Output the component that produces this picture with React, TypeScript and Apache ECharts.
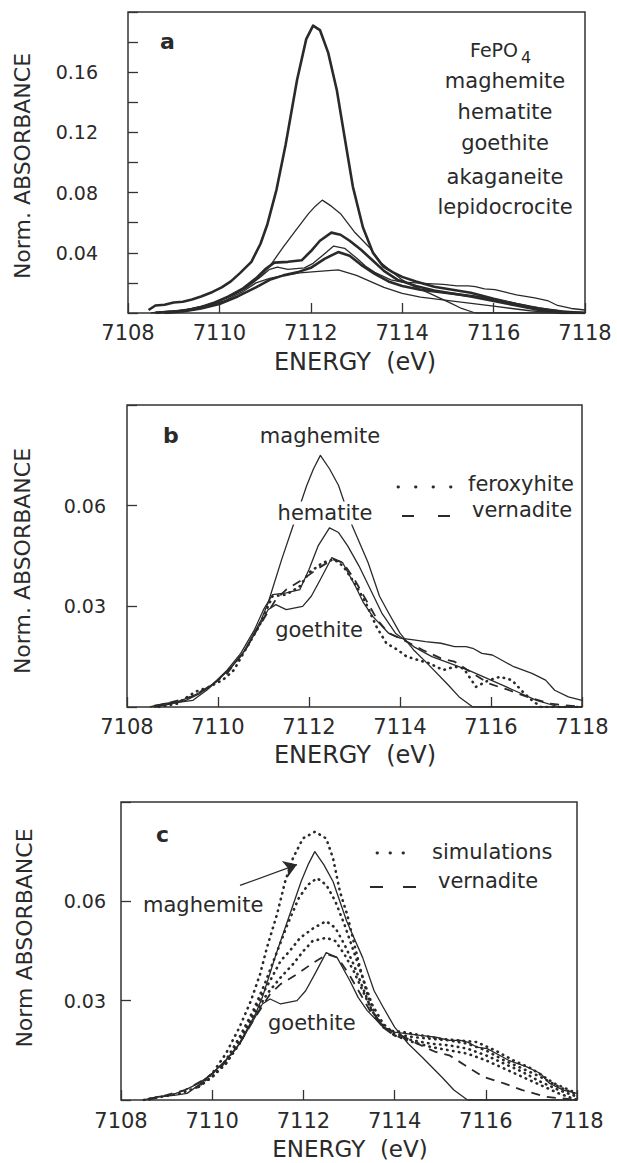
import React, { useEffect, useRef } from "react";
import * as echarts from "echarts";

// ---------- tick labels ----------
const energyTicks = [7108, 7110, 7112, 7114, 7116, 7118];
const yLabelsA = [0.04, 0.08, 0.12, 0.16];
const yLabelsBC = [0.03, 0.06];
const legendA = ["maghemite", "hematite", "goethite", "akaganeite", "lepidocrocite"];

// ---------- spectra (energy eV, normalized absorbance) ----------
const fepo4E = [7108.45, 7108.6, 7108.8, 7109.0, 7109.2, 7109.4, 7109.6, 7109.85, 7110.05, 7110.25, 7110.45, 7110.7, 7110.9, 7111.05, 7111.25, 7111.45, 7111.7, 7111.9, 7112.05, 7112.2, 7112.38, 7112.57, 7112.75, 7112.92, 7113.14, 7113.36, 7113.58, 7113.8, 7114.0, 7114.3, 7114.7, 7115.1, 7115.5, 7116.0, 7116.5, 7117.0, 7117.5, 7118.0];
const fepo4A = [0.002, 0.005, 0.0055, 0.007, 0.0075, 0.009, 0.011, 0.014, 0.017, 0.021, 0.0265, 0.034, 0.046, 0.059, 0.082, 0.112, 0.155, 0.182, 0.191, 0.188, 0.173, 0.148, 0.115, 0.084, 0.057, 0.04, 0.031, 0.027, 0.024, 0.021, 0.0175, 0.0155, 0.0135, 0.0095, 0.006, 0.003, 0.001, 0.0];

const maghE = [7108.6, 7108.9, 7109.2, 7109.45, 7109.75, 7110.0, 7110.3, 7110.55, 7110.75, 7110.95, 7111.1, 7111.4, 7111.65, 7111.95, 7112.1, 7112.25, 7112.45, 7112.65, 7112.95, 7113.3, 7113.55, 7113.75, 7114.0, 7114.3, 7114.6, 7115.05, 7115.3, 7115.6, 7116.0, 7117.0, 7118.0];
const maghA = [0.0005, 0.001, 0.0015, 0.002, 0.005, 0.008, 0.012, 0.016, 0.021, 0.026, 0.031, 0.044, 0.054, 0.066, 0.071, 0.075, 0.071, 0.066, 0.054, 0.043, 0.033, 0.028, 0.022, 0.017, 0.013, 0.0067, 0.003, 0.0, 0.0, 0.0, 0.0];

const hemE = [7108.6, 7109.0, 7109.3, 7109.6, 7109.9, 7110.2, 7110.5, 7110.8, 7111.0, 7111.2, 7111.5, 7111.8, 7112.0, 7112.2, 7112.45, 7112.65, 7112.85, 7113.1, 7113.35, 7113.6, 7113.9, 7114.3, 7114.7, 7115.1, 7115.5, 7116.0, 7116.5, 7117.0, 7117.5, 7118.0];
const hemA = [0.0, 0.001, 0.002, 0.004, 0.007, 0.011, 0.016, 0.023, 0.029, 0.0335, 0.034, 0.035, 0.041, 0.048, 0.0534, 0.052, 0.048, 0.042, 0.035, 0.028, 0.022, 0.018, 0.015, 0.013, 0.011, 0.008, 0.005, 0.002, 0.0, 0.0];

const goeE = [7108.5, 7108.8, 7109.1, 7109.4, 7109.7, 7110.0, 7110.3, 7110.6, 7110.9, 7111.1, 7111.27, 7111.5, 7111.86, 7112.05, 7112.25, 7112.5, 7112.74, 7113.02, 7113.2, 7113.4, 7113.75, 7114.0, 7114.3, 7114.56, 7114.9, 7115.2, 7115.45, 7115.6, 7115.8, 7116.03, 7116.3, 7116.5, 7116.9, 7117.2, 7117.4, 7117.7, 7118.0];
const goeA = [0.0, 0.001, 0.0015, 0.003, 0.005, 0.008, 0.012, 0.017, 0.024, 0.029, 0.0305, 0.029, 0.03, 0.033, 0.038, 0.0445, 0.043, 0.036, 0.031, 0.027, 0.022, 0.0205, 0.02, 0.0195, 0.019, 0.018, 0.018, 0.0175, 0.016, 0.0155, 0.0135, 0.012, 0.01, 0.008, 0.005, 0.003, 0.002];

const akaE = [7108.8, 7109.2, 7109.6, 7110.0, 7110.4, 7110.8, 7111.1, 7111.4, 7111.7, 7112.0, 7112.3, 7112.6, 7112.85, 7113.1, 7113.4, 7113.7, 7114.0, 7114.4, 7114.8, 7115.2, 7115.6, 7116.0, 7116.4, 7116.8, 7117.2, 7117.6, 7118.0];
const akaA = [0.0, 0.001, 0.003, 0.006, 0.011, 0.017, 0.022, 0.025, 0.027, 0.03, 0.036, 0.0405, 0.038, 0.032, 0.026, 0.021, 0.018, 0.0155, 0.014, 0.0125, 0.011, 0.009, 0.0065, 0.004, 0.002, 0.0005, 0.0];

const lepE = [7108.9, 7109.3, 7109.7, 7110.1, 7110.5, 7110.8, 7111.1, 7111.4, 7111.76, 7112.1, 7112.6, 7113.0, 7113.3, 7113.6, 7114.0, 7114.4, 7114.8, 7115.2, 7115.6, 7116.0, 7116.4, 7116.8, 7117.2, 7117.6, 7118.0];
const lepA = [0.0, 0.002, 0.004, 0.008, 0.014, 0.02, 0.023, 0.025, 0.0266, 0.0275, 0.0286, 0.025, 0.021, 0.017, 0.013, 0.0105, 0.009, 0.0075, 0.006, 0.0045, 0.003, 0.0015, 0.0005, 0.0, 0.0];

const ferE = [7108.7, 7109.1, 7109.5, 7109.8, 7110.1, 7110.35, 7110.6, 7110.9, 7111.2, 7111.5, 7111.8, 7112.0, 7112.3, 7112.55, 7112.75, 7113.0, 7113.25, 7113.48, 7113.7, 7113.95, 7114.15, 7114.4, 7114.65, 7114.95, 7115.2, 7115.4, 7115.67, 7115.95, 7116.2, 7116.46, 7116.7, 7116.9, 7117.1, 7117.5, 7118.0];
const ferA = [0.0, 0.001, 0.0045, 0.006, 0.008, 0.011, 0.017, 0.024, 0.033, 0.0335, 0.036, 0.04, 0.043, 0.044, 0.042, 0.037, 0.031, 0.024, 0.019, 0.017, 0.015, 0.014, 0.013, 0.011, 0.012, 0.0115, 0.006, 0.008, 0.009, 0.008, 0.0045, 0.002, 0.0, 0.0, 0.0];

const verE = [7108.6, 7109.0, 7109.4, 7109.8, 7110.2, 7110.6, 7110.9, 7111.27, 7111.5, 7111.86, 7112.2, 7112.52, 7112.75, 7113.0, 7113.25, 7113.5, 7113.75, 7114.0, 7114.5, 7114.9, 7115.2, 7115.6, 7115.95, 7116.4, 7116.8, 7117.3, 7118.0];
const verA = [0.0, 0.0015, 0.003, 0.006, 0.01, 0.017, 0.024, 0.032, 0.035, 0.038, 0.0413, 0.044, 0.043, 0.038, 0.032, 0.026, 0.022, 0.0205, 0.017, 0.0145, 0.0135, 0.01, 0.007, 0.005, 0.003, 0.001, 0.0];

const sim1E = [7108.5, 7108.9, 7109.3, 7109.7, 7110.0, 7110.3, 7110.6, 7110.85, 7111.05, 7111.2, 7111.42, 7111.6, 7111.77, 7111.99, 7112.25, 7112.5, 7112.65, 7112.8, 7112.96, 7113.1, 7113.24, 7113.4, 7113.6, 7113.85, 7114.2, 7114.6, 7115.0, 7115.4, 7115.8, 7116.2, 7116.6, 7117.0, 7117.5, 7118.0];
const sim1A = [0.0, 0.001, 0.002, 0.004, 0.008, 0.014, 0.022, 0.03, 0.038, 0.046, 0.056, 0.066, 0.073, 0.079, 0.081, 0.079, 0.073, 0.063, 0.056, 0.048, 0.04, 0.032, 0.025, 0.021, 0.0205, 0.0195, 0.0185, 0.018, 0.0175, 0.015, 0.012, 0.0095, 0.005, 0.002];

const sim2E = [7109.7, 7110.0, 7110.3, 7110.6, 7110.9, 7111.15, 7111.4, 7111.65, 7111.9, 7112.1, 7112.3, 7112.5, 7112.7, 7112.9, 7113.1, 7113.3, 7113.5, 7113.75, 7114.0, 7114.4, 7114.8, 7115.2, 7115.6, 7116.0, 7116.4, 7116.8, 7117.2, 7117.6, 7118.0];
const sim2A = [0.004, 0.007, 0.012, 0.019, 0.027, 0.035, 0.044, 0.053, 0.061, 0.065, 0.067, 0.065, 0.06, 0.053, 0.045, 0.037, 0.029, 0.023, 0.02, 0.019, 0.0185, 0.018, 0.017, 0.015, 0.012, 0.0095, 0.007, 0.004, 0.0015];

const sim3E = [7109.7, 7110.0, 7110.3, 7110.6, 7110.9, 7111.1, 7111.27, 7111.5, 7111.7, 7111.93, 7112.23, 7112.5, 7112.7, 7112.9, 7113.1, 7113.3, 7113.5, 7113.75, 7114.0, 7114.4, 7114.8, 7115.2, 7115.6, 7116.0, 7116.4, 7116.8, 7117.2, 7117.6, 7118.0];
const sim3A = [0.004, 0.007, 0.011, 0.018, 0.026, 0.032, 0.036, 0.042, 0.045, 0.049, 0.052, 0.054, 0.052, 0.047, 0.041, 0.034, 0.027, 0.022, 0.0195, 0.018, 0.017, 0.0165, 0.0155, 0.0135, 0.011, 0.0085, 0.0055, 0.003, 0.001];

const sim4E = [7109.7, 7110.0, 7110.3, 7110.6, 7110.9, 7111.2, 7111.5, 7111.77, 7112.0, 7112.2, 7112.5, 7112.7, 7112.9, 7113.1, 7113.3, 7113.5, 7113.75, 7114.0, 7114.4, 7114.8, 7115.2, 7115.6, 7116.0, 7116.4, 7116.8, 7117.2, 7117.6, 7118.0];
const sim4A = [0.004, 0.007, 0.011, 0.017, 0.025, 0.032, 0.037, 0.041, 0.045, 0.048, 0.049, 0.048, 0.044, 0.039, 0.033, 0.027, 0.022, 0.0195, 0.0175, 0.016, 0.015, 0.014, 0.012, 0.0095, 0.007, 0.0045, 0.002, 0.0];

// arrow in panel c (data coordinates: from, to)
const arrowFrom = [7110.61, 0.0648];
const arrowTo = [7111.86, 0.0711];

const INK = "#2a2a2a";
const FONT = "DejaVu Sans";

const pairs = (xs: number[], ys: number[]) => xs.map((x, i) => [x, ys[i]]);

const DOTS = [0.5, 5.5];
const DASH = [9, 7];

function curve(name: string, xs: number[], ys: number[], gi: number, width: number, dash?: number[], extra?: any) {
  return {
    name,
    type: "line",
    xAxisIndex: gi,
    yAxisIndex: gi,
    data: pairs(xs, ys),
    showSymbol: false,
    symbol: "none",
    smooth: false,
    silent: true,
    lineStyle: {
      color: INK,
      width,
      type: dash ? dash : "solid",
      cap: dash === DOTS ? "round" : "butt",
      join: "round",
    },
    z: 3,
    ...(extra || {}),
  };
}

function txt(text: string, x: number, y: number, size: number, align = "center", extra: any = {}) {
  return {
    type: "text",
    x,
    y,
    z: 100,
    style: {
      text,
      fill: INK,
      fontSize: size,
      fontFamily: FONT,
      align,
      verticalAlign: "middle",
      textAlign: align,
      textVerticalAlign: "middle",
      ...extra,
    },
  };
}

function vtxt(text: string, x: number, y: number, size: number) {
  const t: any = txt(text, x, y, size);
  t.rotation = Math.PI / 2;
  return t;
}

function sample(x1: number, x2: number, y: number, dash: number[], width: number, round: boolean) {
  return {
    type: "line",
    z: 100,
    shape: { x1, y1: y, x2, y2: y },
    style: { stroke: INK, lineWidth: width, lineDash: dash, lineCap: round ? "round" : "butt" },
  };
}

export default function App() {
  const ref = useRef<HTMLDivElement>(null);

  useEffect(() => {
    const chart = echarts.init(ref.current as HTMLDivElement, null, { renderer: "svg" });

    const grids = [
      { left: 128, top: 12, width: 457, height: 301 },
      { left: 127, top: 405, width: 455, height: 302 },
      { left: 121, top: 802, width: 456, height: 298 },
    ].map((g) => ({ ...g, show: true, borderColor: "#333", borderWidth: 1.5, backgroundColor: "transparent" }));

    const labelMargins = [9, 9, 10];
    const xAxes = [0, 1, 2].map((i) => ({
      type: "value",
      gridIndex: i,
      min: energyTicks[0],
      max: energyTicks[energyTicks.length - 1],
      interval: 2,
      axisLine: { show: false },
      splitLine: { show: false },
      axisTick: { show: true, inside: true, length: 10, lineStyle: { color: "#333", width: 1.3 } },
      axisLabel: {
        show: true,
        showMinLabel: true,
        showMaxLabel: true,
        margin: labelMargins[i],
        color: INK,
        fontSize: 21,
        fontFamily: FONT,
        formatter: (v: number) => (energyTicks.includes(Math.round(v)) ? String(Math.round(v)) : ""),
      },
    }));

    const yMargins = [30, 21, 15];
    const yAxes = [0, 1, 2].map((i) => {
      const isA = i === 0;
      const lbls = isA ? yLabelsA : yLabelsBC;
      return {
        type: "value",
        gridIndex: i,
        min: 0,
        max: isA ? 0.2 : 0.09,
        interval: isA ? 0.02 : 0.03,
        axisLine: { show: false },
        splitLine: { show: false },
        axisTick: { show: true, inside: true, length: 10, lineStyle: { color: "#333", width: 1.3 } },
        axisLabel: {
          show: true,
          margin: yMargins[i],
          color: INK,
          fontSize: 19,
          fontFamily: FONT,
          formatter: (v: number) => {
            const k = Math.round(v * 100);
            return lbls.some((l) => Math.round(l * 100) === k) ? (k / 100).toFixed(2) : "";
          },
        },
      };
    });

    const THICK = 2.6;
    const THIN = 1.3;

    const series: any[] = [
      // panel a
      curve("FePO4", fepo4E, fepo4A, 0, THICK),
      curve("maghemite", maghE, maghA, 0, THIN),
      curve("hematite", hemE, hemA, 0, THICK),
      curve("goethite", goeE, goeA, 0, THIN),
      curve("akaganeite", akaE, akaA, 0, THICK),
      curve("lepidocrocite", lepE, lepA, 0, THIN),
      // panel b
      curve("maghemite b", maghE, maghA, 1, THIN),
      curve("hematite b", hemE, hemA, 1, THIN),
      curve("goethite b", goeE, goeA, 1, THIN),
      curve("feroxyhite", ferE, ferA, 1, 2.6, DOTS),
      curve("vernadite b", verE, verA, 1, 1.8, DASH),
      // panel c
      curve("maghemite c", maghE, maghA, 2, THIN, undefined, {
        markLine: {
          silent: true,
          symbol: ["none", "arrow"],
          symbolSize: 13,
          label: { show: false },
          lineStyle: { color: INK, width: 1.3, type: "solid" },
          itemStyle: { color: INK },
          data: [[{ coord: arrowFrom }, { coord: arrowTo }]],
        },
      }),
      curve("goethite c", goeE, goeA, 2, THIN),
      curve("vernadite c", verE, verA, 2, 1.8, DASH),
      curve("sim1", sim1E, sim1A, 2, 2.6, DOTS),
      curve("sim2", sim2E, sim2A, 2, 2.6, DOTS),
      curve("sim3", sim3E, sim3A, 2, 2.6, DOTS),
      curve("sim4", sim4E, sim4A, 2, 2.6, DOTS),
    ];

    const legendYs = [81, 112, 143, 177, 207];
    const graphic: any[] = [
      // panel a
      txt("a", 160, 41, 22, "left", { fontWeight: "bold" }),
      txt("FePO", 470, 50, 19, "left"),
      txt("4", 521, 57, 16, "left"),
      ...legendA.map((n, i) => txt(n, 505, legendYs[i], 21)),
      vtxt("Norm. ABSORBANCE", 22, 166, 22),
      txt("ENERGY  (eV)", 355, 362, 24),
      // panel b
      txt("b", 163, 435, 22, "left", { fontWeight: "bold" }),
      txt("maghemite", 320, 436, 21),
      txt("hematite", 325, 513, 21, "center", { backgroundColor: "#fff", padding: [1, 3] }),
      txt("goethite", 319, 630, 21),
      sample(398, 453, 487, [0.5, 17], 2.8, true),
      txt("feroxyhite", 468, 484, 21, "left"),
      sample(402, 452, 516, [12, 24], 1.8, false),
      txt("vernadite", 472, 510, 21, "left"),
      vtxt("Norm. ABSORBANCE", 22, 561, 22),
      txt("ENERGY  (eV)", 355, 755, 24),
      // panel c
      txt("c", 156, 834, 22, "left", { fontWeight: "bold" }),
      txt("maghemite", 143, 905, 21, "left"),
      txt("goethite", 268, 1023, 21, "left"),
      sample(377, 404, 853, [0.5, 12.5], 2.8, true),
      txt("simulations", 432, 852, 21, "left"),
      sample(370, 418, 887, [13, 20], 1.8, false),
      txt("vernadite", 438, 881, 21, "left"),
      vtxt("Norm ABSORBANCE", 24, 938, 22),
      txt("ENERGY  (eV)", 350, 1149, 23),
    ];

    chart.setOption({
      animation: false,
      backgroundColor: "#fff",
      grid: grids,
      xAxis: xAxes,
      yAxis: yAxes,
      series,
      graphic,
    });

    return () => chart.dispose();
  }, []);

  return (
    <div
      ref={ref}
      style={{ position: "absolute", left: 0, top: 0, width: 617, height: 1163, background: "#fff" }}
    />
  );
}
